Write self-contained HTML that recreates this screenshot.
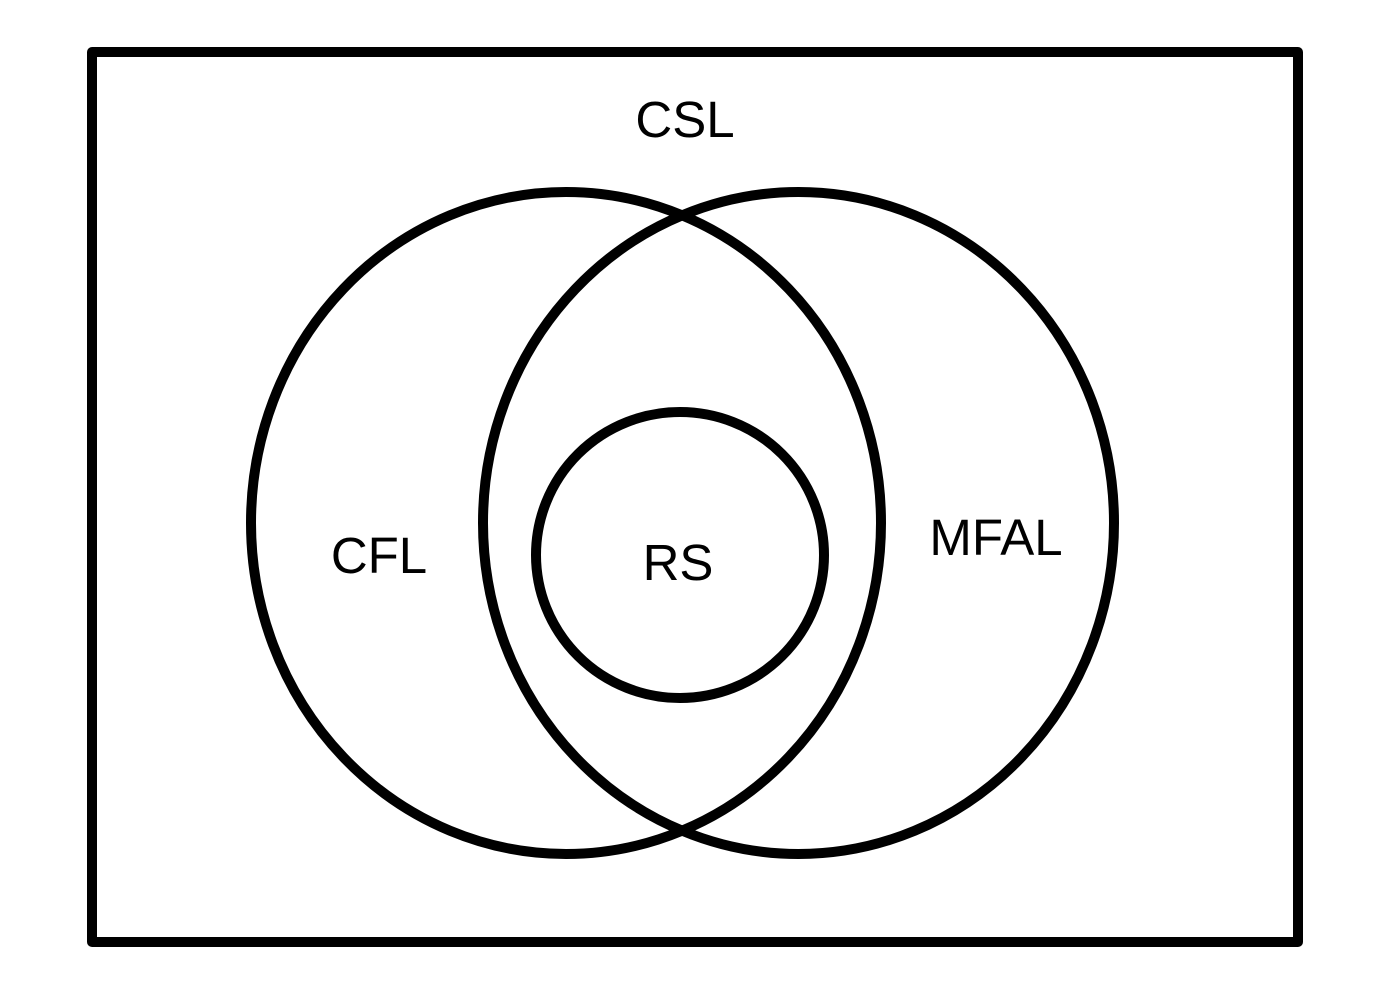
<!DOCTYPE html>
<html><head><style>html,body{margin:0;padding:0;background:#fff;}svg{display:block}</style></head>
<body>
<svg width="1376" height="1004" viewBox="0 0 1376 1004" xmlns="http://www.w3.org/2000/svg">
<rect x="0" y="0" width="1376" height="1004" fill="#fff"/>
<g fill="none" stroke="#000" stroke-width="10" stroke-linejoin="round">
<rect x="92" y="52" width="1206" height="890"/>
<ellipse cx="566" cy="523" rx="315" ry="331"/>
<ellipse cx="798.5" cy="523" rx="315.5" ry="331"/>
<ellipse cx="680" cy="555" rx="144" ry="143"/>
</g>
<g font-family="Liberation Sans, sans-serif" font-size="51" fill="#000">
<text x="685" y="137" text-anchor="middle">CSL</text>
<text x="379" y="573" text-anchor="middle">CFL</text>
<text x="678" y="580" text-anchor="middle">RS</text>
<text x="996" y="555" text-anchor="middle">MFAL</text>
</g>
</svg>
</body></html>
